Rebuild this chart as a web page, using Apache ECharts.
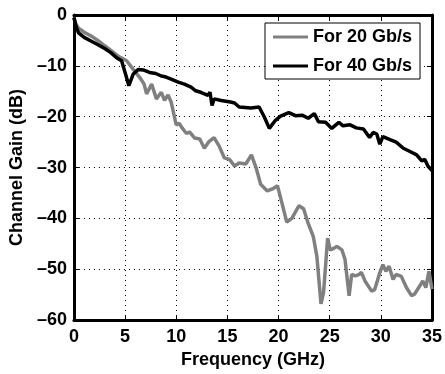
<!DOCTYPE html>
<html>
<head>
<meta charset="utf-8">
<script src="https://cdn.jsdelivr.net/npm/echarts@6/dist/echarts.min.js"></script>
<style>
html,body{margin:0;padding:0;background:#fff;}
#chart{width:445px;height:374px;}
</style>
</head>
<body>
<div id="chart"></div>
<script>
// Frequency (GHz) and channel gain (dB)
var freq20 = [0,0.2,0.45,1.0,1.75,2.4,3.04,3.7,4.34,5.15,5.8,6.44,6.86,7.1,7.6,8.06,8.54,8.86,9.2,9.5,10.0,10.3,10.5,11.0,11.3,11.8,12.3,12.75,13.2,13.7,14.2,14.7,15.2,15.7,16.15,16.8,17.35,17.8,18.25,18.9,19.4,19.9,20.35,20.8,21.3,22.0,22.45,22.9,23.4,23.75,24.15,24.4,24.8,25.05,25.4,25.7,26.2,26.5,26.9,27.15,27.5,27.9,28.1,28.45,29.1,29.4,29.9,30.2,30.5,30.8,31.2,31.5,32.0,32.5,33.0,33.3,33.8,34.1,34.4,34.7,35.0];
var gain20 = [-0.5,-1.8,-2.6,-3.4,-4.2,-5.1,-6.1,-7.1,-8.1,-9.0,-10.7,-12.3,-13.6,-15.5,-13.6,-16.5,-15.2,-16.8,-15.7,-17.1,-21.6,-21.3,-22.0,-23.3,-23.0,-24.2,-24.4,-26.2,-24.9,-24.1,-25.8,-28.1,-28.4,-29.7,-29.1,-29.3,-27.5,-30.0,-33.3,-34.6,-34.2,-33.6,-37.1,-40.7,-40.0,-37.5,-38.1,-41.0,-43.6,-47.5,-56.8,-54.6,-43.9,-46.2,-45.9,-45.5,-46.2,-48.1,-55.2,-51.0,-51.3,-51.0,-50.6,-52.3,-54.3,-54.0,-50.7,-49.1,-50.4,-49.4,-52.0,-51.0,-51.4,-53.6,-55.2,-54.9,-53.3,-52.3,-53.6,-50.4,-53.9];
var freq40 = [0,0.2,0.45,1.0,1.75,2.4,3.04,3.6,4.17,4.66,5.0,5.37,5.8,6.3,6.77,7.4,8.0,8.54,9.0,9.5,10.2,10.8,11.45,11.9,12.4,13.1,13.3,13.5,13.7,14.4,15.0,15.3,15.7,16.15,17.3,18.1,18.6,19.1,19.7,20.2,21.0,21.65,22.3,22.9,23.5,23.9,24.6,25.2,25.9,26.3,27.0,27.6,28.3,28.9,29.25,29.6,29.9,30.2,30.9,31.5,32.2,32.8,33.5,34.0,34.3,34.6,35.0];
var gain40 = [-0.5,-2.2,-3.5,-4.4,-5.2,-5.9,-6.65,-7.4,-8.4,-9.0,-11.3,-13.9,-11.6,-10.7,-10.8,-11.3,-11.5,-12.0,-12.2,-12.6,-13.2,-13.6,-14.2,-14.9,-15.2,-15.8,-15.2,-17.8,-16.5,-16.8,-17.0,-17.1,-17.3,-18.1,-18.3,-18.1,-20.0,-22.3,-20.7,-19.9,-19.2,-19.8,-19.7,-20.3,-19.4,-21.0,-21.1,-22.3,-21.1,-21.8,-21.6,-22.2,-22.4,-24.1,-23.1,-23.4,-25.4,-23.9,-24.5,-25.0,-26.2,-26.8,-27.5,-28.7,-28.4,-29.7,-30.6];
var seriesNames = ['For 20 Gb/s', 'For 40 Gb/s'];
var xTicks = {min: 0, max: 35, interval: 5};
var yTicks = {min: -60, max: 0, interval: 10};

function pairs(xs, ys){ return xs.map(function(x,i){ return [x, ys[i]]; }); }

var font = 'Liberation Sans, Arial, Helvetica, sans-serif';
var chart = echarts.init(document.getElementById('chart'));
function tickStyle(){ return {show: true, inside: true, length: 5, lineStyle: {color: '#000', width: 1}}; }
function gridLine(){ return {show: true, lineStyle: {color: '#000', width: 1, type: [1, 4]}}; }
function frame(){ return {show: true, onZero: false, lineStyle: {color: '#000', width: 3}}; }

chart.setOption({
  animation: false,
  backgroundColor: '#fff',
  grid: {left: 72, right: 12, top: 15, bottom: 50, show: false},
  legend: {
    data: seriesNames,
    orient: 'vertical',
    left: 265, top: 23,
    backgroundColor: '#fff',
    borderColor: '#000', borderWidth: 1,
    padding: [4, 8, 3, 8],
    itemGap: 9,
    itemWidth: 35, itemHeight: 3,
    icon: 'rect',
    textStyle: {fontFamily: font, fontWeight: 'bold', fontSize: 18, color: '#000', lineHeight: 20}
  },
  xAxis: [{
    type: 'value', position: 'bottom', min: xTicks.min, max: xTicks.max, interval: xTicks.interval,
    name: 'Frequency (GHz)', nameLocation: 'middle', nameGap: 25,
    nameTextStyle: {fontFamily: font, fontWeight: 'bold', fontSize: 18, color: '#000'},
    axisLine: frame(),
    axisTick: tickStyle(),
    axisLabel: {fontFamily: font, fontWeight: 'bold', fontSize: 18, color: '#000', margin: 8},
    splitLine: gridLine()
  }, {
    type: 'value', position: 'top', min: xTicks.min, max: xTicks.max, interval: xTicks.interval,
    axisLine: frame(), axisTick: tickStyle(), axisLabel: {show: false}, splitLine: {show: false}
  }],
  yAxis: [{
    type: 'value', position: 'left', min: yTicks.min, max: yTicks.max, interval: yTicks.interval,
    name: 'Channel Gain (dB)', nameLocation: 'middle', nameGap: 41,
    nameTextStyle: {fontFamily: font, fontWeight: 'bold', fontSize: 18, color: '#000'},
    axisLine: frame(),
    axisTick: tickStyle(),
    axisLabel: {fontFamily: font, fontWeight: 'bold', fontSize: 18, color: '#000', margin: 7,
      formatter: function(v){ return String(v).replace('-', '\u2013'); }},
    splitLine: gridLine()
  }, {
    type: 'value', position: 'right', min: yTicks.min, max: yTicks.max, interval: yTicks.interval,
    axisLine: frame(), axisTick: tickStyle(), axisLabel: {show: false}, splitLine: {show: false}
  }],
  series: [{
    name: seriesNames[0], type: 'line', xAxisIndex: 0, yAxisIndex: 0, data: pairs(freq20, gain20),
    showSymbol: false, symbol: 'none',
    lineStyle: {color: '#808080', width: 3.5}, itemStyle: {color: '#808080'}, z: 2
  }, {
    name: seriesNames[1], type: 'line', xAxisIndex: 0, yAxisIndex: 0, data: pairs(freq40, gain40),
    showSymbol: false, symbol: 'none',
    lineStyle: {color: '#000', width: 3.5}, itemStyle: {color: '#000'}, z: 3
  }]
});
</script>
</body>
</html>
